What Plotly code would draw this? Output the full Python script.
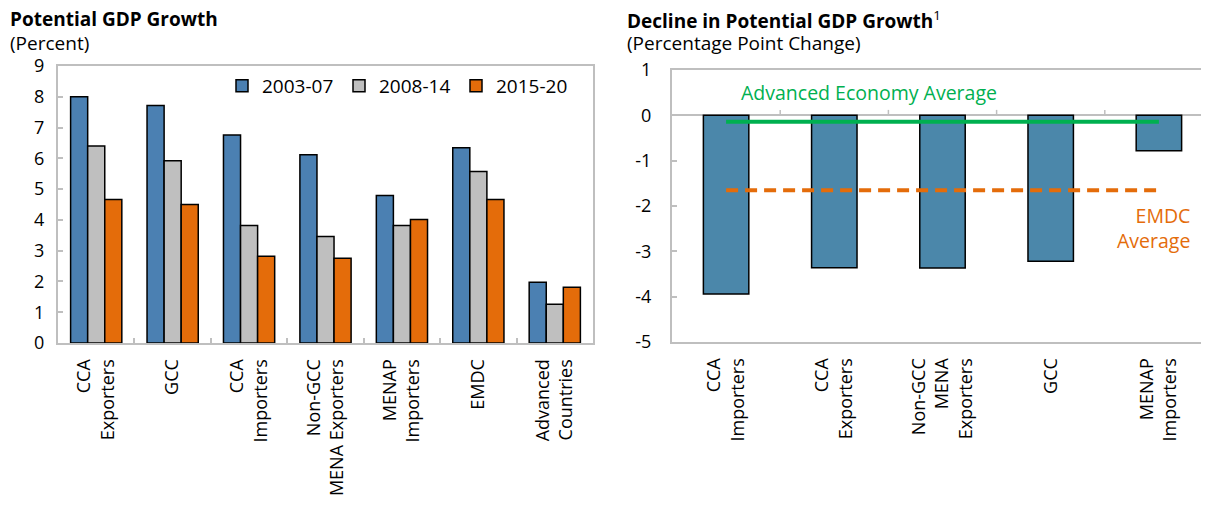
import plotly.graph_objects as go

# ---------------- data ----------------
left_categories = ["CCA<br>Exporters", "GCC", "CCA<br>Importers", "Non-GCC<br>MENA Exporters",
                   "MENAP<br>Importers", "EMDC", "Advanced<br>Countries"]
series_names = ["2003-07", "2008-14", "2015-20"]
growth_2003_07 = [8.0, 7.72, 6.76, 6.12, 4.79, 6.34, 1.97]
growth_2008_14 = [6.4, 5.92, 3.82, 3.46, 3.82, 5.57, 1.26]
growth_2015_20 = [4.66, 4.5, 2.82, 2.75, 4.01, 4.66, 1.81]

right_categories = ["CCA<br>Importers", "CCA<br>Exporters", "Non-GCC<br>MENA<br>Exporters",
                    "GCC", "MENAP<br>Importers"]
decline_values = [-3.94, -3.36, -3.37, -3.22, -0.78]
advanced_avg = -0.14
emdc_avg = -1.65

left_yticks = list(range(0, 10))
right_yticks = list(range(-5, 2))
right_yticklabels = [str(v) for v in right_yticks]

# ---------------- style ----------------
W, H = 1209, 506
OFF = 8  # page body margin offset
FONT = "Open Sans"
BLUE = "#4b80b2"
GRAY = "#bfbfbf"
ORANGE = "#e46c0a"
RBLUE = "#4b87aa"
GREEN = "#00b050"
FRAME = "#bfbfbf"

def px_x(p):
    return (p - OFF) / W

def px_y(p):
    return 1 - (p - OFF) / H

fig = go.Figure()

colors = [BLUE, GRAY, ORANGE]
for name, vals, c in zip(series_names, [growth_2003_07, growth_2008_14, growth_2015_20], colors):
    fig.add_trace(go.Bar(x=left_categories, y=vals, name=name, marker=dict(color=c, line=dict(color="black", width=1.5)),
                         xaxis="x", yaxis="y"))

fig.add_trace(go.Bar(x=right_categories, y=decline_values, showlegend=False,
                     marker=dict(color=RBLUE, line=dict(color="black", width=1.5)),
                     xaxis="x2", yaxis="y2", width=0.42))
fig.add_trace(go.Scatter(x=[right_categories[0], right_categories[-1]], y=[advanced_avg, advanced_avg],
                         mode="lines", line=dict(color=GREEN, width=4), showlegend=False,
                         xaxis="x2", yaxis="y2"))
fig.add_trace(go.Scatter(x=[right_categories[0], right_categories[-1]], y=[emdc_avg, emdc_avg],
                         mode="lines", line=dict(color=ORANGE, width=4, dash="12px,7px"), showlegend=False,
                         xaxis="x2", yaxis="y2"))

axis_common = dict(showline=True, linecolor=FRAME, linewidth=2, showgrid=False,
                   tickfont=dict(family=FONT, size=18, color="black"))

fig.update_layout(
    width=W, height=H,
    margin=dict(l=0, r=0, t=0, b=0, autoexpand=False),
    plot_bgcolor="white", paper_bgcolor="white",
    font=dict(family=FONT, size=18, color="black"),
    barmode="group", bargap=0.33, bargroupgap=0,
    xaxis=dict(domain=[px_x(58), px_x(593)], anchor="y", ticks="inside", tickson="boundaries",
               ticklen=5, tickcolor=FRAME, tickwidth=1.5, tickangle=-90, zeroline=False, mirror=True,
               ticklabelstandoff=7, **axis_common),
    yaxis=dict(domain=[px_y(343), px_y(66)], anchor="x", range=[0, 9], tickvals=left_yticks,
               ticks="inside", ticklen=5, tickcolor=FRAME, tickwidth=1.5, zeroline=False, mirror=True,
               ticklabelstandoff=8, **axis_common),
    xaxis2=dict(domain=[px_x(672), px_x(1213)], anchor="y2", ticks="", tickangle=-90, zeroline=False,
                range=[-0.5, 4.5], mirror=True, ticklabelstandoff=7, **axis_common),
    yaxis2=dict(domain=[px_y(342), px_y(70)], anchor="x2", range=[-5, 1], tickvals=right_yticks,
                ticktext=right_yticklabels,
                ticks="inside", ticklen=5, tickcolor=FRAME, tickwidth=1.5, mirror=False,
                zeroline=True, zerolinecolor=FRAME, zerolinewidth=2, ticklabelstandoff=15, **axis_common),
    legend=dict(orientation="h", x=px_x(222), y=px_y(67), xanchor="left", yanchor="top",
                font=dict(family=FONT, size=19), entrywidth=72, entrywidthmode="pixels",
                bgcolor="rgba(0,0,0,0)", tracegroupgap=0),
    showlegend=True,
)

# small tick marks on the zero line of the right chart at category boundaries
for i in range(1, len(right_categories)):
    fig.add_shape(type="line", xref="x2", yref="y2", x0=i - 0.5, x1=i - 0.5, y0=0, y1=0.12,
                  line=dict(color=FRAME, width=1.5))

annotations = [
    dict(text="<b>Potential GDP Growth</b>", x=px_x(9), y=px_y(19), xanchor="left", yanchor="middle",
         font=dict(size=19)),
    dict(text="(Percent)", x=px_x(9), y=px_y(43), xanchor="left", yanchor="middle", font=dict(size=19)),
    dict(text="<b>Decline in Potential GDP Growth</b><sup>1</sup>", x=px_x(626), y=px_y(20), xanchor="left",
         yanchor="middle", font=dict(size=19)),
    dict(text="(Percentage Point Change)", x=px_x(626), y=px_y(43), xanchor="left", yanchor="middle",
         font=dict(size=19)),
    dict(text="Advanced Economy Average", x=px_x(740), y=px_y(92), xanchor="left", yanchor="middle",
         font=dict(size=19.5, color=GREEN)),
    dict(text="EMDC<br>Average", x=px_x(1191), y=px_y(228), xanchor="right", yanchor="middle", align="right",
         font=dict(size=19.5, color=ORANGE)),
]
for a in annotations:
    a.update(xref="paper", yref="paper", showarrow=False, borderpad=0)
fig.update_layout(annotations=annotations)

fig.write_html("out.html")
